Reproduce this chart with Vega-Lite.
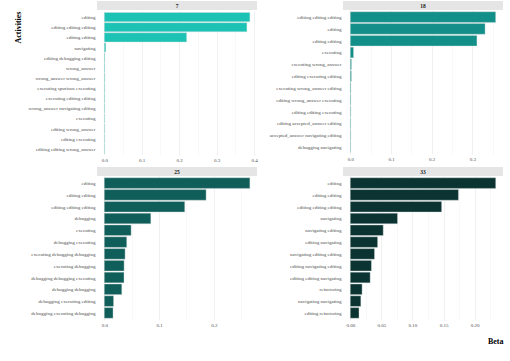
{
  "$schema": "https://vega.github.io/schema/vega-lite/v6.json",
  "padding": {"left": 14, "top": 1, "right": 1, "bottom": 5},
  "background": "white",
  "datasets": {
    "betas": [
      {"topic": "7", "term": "editing", "beta": 0.389},
      {"topic": "7", "term": "editing editing editing", "beta": 0.381},
      {"topic": "7", "term": "editing editing", "beta": 0.220},
      {"topic": "7", "term": "navigating", "beta": 0.004},
      {"topic": "7", "term": "editing debugging editing", "beta": 0.0016},
      {"topic": "7", "term": "wrong_answer", "beta": 0.00155},
      {"topic": "7", "term": "wrong_answer wrong_answer", "beta": 0.0015},
      {"topic": "7", "term": "executing spurious executing", "beta": 0.00145},
      {"topic": "7", "term": "executing editing editing", "beta": 0.0014},
      {"topic": "7", "term": "wrong_answer navigating editing", "beta": 0.00135},
      {"topic": "7", "term": "executing", "beta": 0.0013},
      {"topic": "7", "term": "editing wrong_answer", "beta": 0.00125},
      {"topic": "7", "term": "editing executing", "beta": 0.0012},
      {"topic": "7", "term": "editing editing wrong_answer", "beta": 0.00115},
      {"topic": "18", "term": "editing editing editing", "beta": 0.357},
      {"topic": "18", "term": "editing", "beta": 0.331},
      {"topic": "18", "term": "editing editing", "beta": 0.311},
      {"topic": "18", "term": "executing", "beta": 0.008},
      {"topic": "18", "term": "executing wrong_answer", "beta": 0.003},
      {"topic": "18", "term": "editing executing editing", "beta": 0.0028},
      {"topic": "18", "term": "executing wrong_answer editing", "beta": 0.0016},
      {"topic": "18", "term": "editing wrong_answer executing", "beta": 0.0015},
      {"topic": "18", "term": "editing editing executing", "beta": 0.0014},
      {"topic": "18", "term": "editing accepted_answer editing", "beta": 0.0013},
      {"topic": "18", "term": "accepted_answer navigating editing", "beta": 0.0012},
      {"topic": "18", "term": "debugging navigating", "beta": 0.0011},
      {"topic": "25", "term": "editing", "beta": 0.266},
      {"topic": "25", "term": "editing editing", "beta": 0.186},
      {"topic": "25", "term": "editing editing editing", "beta": 0.147},
      {"topic": "25", "term": "debugging", "beta": 0.085},
      {"topic": "25", "term": "executing", "beta": 0.049},
      {"topic": "25", "term": "debugging executing", "beta": 0.041},
      {"topic": "25", "term": "executing debugging debugging", "beta": 0.038},
      {"topic": "25", "term": "executing debugging", "beta": 0.0362},
      {"topic": "25", "term": "debugging debugging executing", "beta": 0.036},
      {"topic": "25", "term": "debugging debugging", "beta": 0.032},
      {"topic": "25", "term": "debugging executing editing", "beta": 0.017},
      {"topic": "25", "term": "debugging executing debugging", "beta": 0.016},
      {"topic": "33", "term": "editing", "beta": 0.234},
      {"topic": "33", "term": "editing editing", "beta": 0.174},
      {"topic": "33", "term": "editing editing editing", "beta": 0.147},
      {"topic": "33", "term": "navigating", "beta": 0.076},
      {"topic": "33", "term": "navigating editing", "beta": 0.053},
      {"topic": "33", "term": "editing navigating", "beta": 0.044},
      {"topic": "33", "term": "navigating editing editing", "beta": 0.039},
      {"topic": "33", "term": "editing navigating editing", "beta": 0.034},
      {"topic": "33", "term": "editing editing navigating", "beta": 0.032},
      {"topic": "33", "term": "refactoring", "beta": 0.019},
      {"topic": "33", "term": "navigating navigating", "beta": 0.017},
      {"topic": "33", "term": "editing refactoring", "beta": 0.014}
    ]
  },
  "config": {
    "font": "Liberation Serif",
    "view": {"stroke": null},
    "axis": {
      "labelFont": "Liberation Serif",
      "labelFontSize": 5,
      "labelColor": "#4d4d4d",
      "ticks": false,
      "domain": false,
      "gridColor": "#ebebeb",
      "gridWidth": 0.6,
      "titleFont": "Liberation Serif",
      "titleFontWeight": "bold",
      "titleFontSize": 8,
      "titleColor": "#000000"
    },
    "axisY": {"labelPadding": 2},
    "axisX": {"labelPadding": 2}
  },
  "columns": 2,
  "spacing": {"row": 5, "column": 11},
  "concat": [
    {
      "spacing": 0,
      "vconcat": [
        {"width": 160, "height": 9, "data": {"values": [{"topic": "7"}]}, "view": {"fill": "#e5e5e5", "stroke": null},
         "mark": {"type": "text", "fontWeight": "bold", "fontSize": 5.5, "color": "#1a1a1a", "baseline": "middle", "font": "Liberation Serif"},
         "encoding": {"text": {"field": "topic"}}},
        {"width": 160, "height": 144, "data": {"name": "betas"}, "transform": [{"filter": "datum.topic == '7'"}],
         "mark": {"type": "bar", "color": "#1cc3b5", "stroke": "#d6dede", "strokeWidth": 0.4},
         "encoding": {
           "y": {"field": "term", "type": "nominal", "sort": "-x", "scale": {"paddingInner": 0.1, "paddingOuter": 0.15},
                 "axis": {"title": "Activities", "titleAnchor": "start", "titleAlign": "right", "titlePadding": 6}},
           "x": {"field": "beta", "type": "quantitative", "scale": {"domain": [-0.0195, 0.408], "nice": false, "zero": false},
                 "axis": {"title": null, "values": [0, 0.05, 0.1, 0.15, 0.2, 0.25, 0.3, 0.35, 0.4],
                          "labelExpr": "abs(datum.value*10 - round(datum.value*10)) < 0.000001 ? format(datum.value, '.1f') : ''",
                          "gridColor": {"condition": {"test": "abs(datum.value*10 - round(datum.value*10)) < 0.000001", "value": "#e6e6e6"}, "value": "#f3f3f3"}}}
         }}
      ]
    },
    {
      "spacing": 0,
      "vconcat": [
        {"width": 160, "height": 9, "data": {"values": [{"topic": "18"}]}, "view": {"fill": "#e5e5e5", "stroke": null},
         "mark": {"type": "text", "fontWeight": "bold", "fontSize": 5.5, "color": "#1a1a1a", "baseline": "middle", "font": "Liberation Serif"},
         "encoding": {"text": {"field": "topic"}}},
        {"width": 160, "height": 144, "data": {"name": "betas"}, "transform": [{"filter": "datum.topic == '18'"}],
         "mark": {"type": "bar", "color": "#128f88", "stroke": "#d6dede", "strokeWidth": 0.4},
         "encoding": {
           "y": {"field": "term", "type": "nominal", "sort": "-x", "scale": {"paddingInner": 0.1, "paddingOuter": 0.15},
                 "axis": {"title": null}},
           "x": {"field": "beta", "type": "quantitative", "scale": {"domain": [-0.0179, 0.375], "nice": false, "zero": false},
                 "axis": {"title": null, "values": [0, 0.05, 0.1, 0.15, 0.2, 0.25, 0.3, 0.35],
                          "labelExpr": "abs(datum.value*10 - round(datum.value*10)) < 0.000001 ? format(datum.value, '.1f') : ''",
                          "gridColor": {"condition": {"test": "abs(datum.value*10 - round(datum.value*10)) < 0.000001", "value": "#e6e6e6"}, "value": "#f3f3f3"}}}
         }}
      ]
    },
    {
      "spacing": 0,
      "vconcat": [
        {"width": 160, "height": 9, "data": {"values": [{"topic": "25"}]}, "view": {"fill": "#e5e5e5", "stroke": null},
         "mark": {"type": "text", "fontWeight": "bold", "fontSize": 5.5, "color": "#1a1a1a", "baseline": "middle", "font": "Liberation Serif"},
         "encoding": {"text": {"field": "topic"}}},
        {"width": 160, "height": 144, "data": {"name": "betas"}, "transform": [{"filter": "datum.topic == '25'"}],
         "mark": {"type": "bar", "color": "#0f5e5a", "stroke": "#d6dede", "strokeWidth": 0.4},
         "encoding": {
           "y": {"field": "term", "type": "nominal", "sort": "-x", "scale": {"paddingInner": 0.1, "paddingOuter": 0.15},
                 "axis": {"title": null}},
           "x": {"field": "beta", "type": "quantitative", "scale": {"domain": [-0.0133, 0.279], "nice": false, "zero": false},
                 "axis": {"title": null, "values": [0, 0.05, 0.1, 0.15, 0.2, 0.25],
                          "labelExpr": "abs(datum.value*10 - round(datum.value*10)) < 0.000001 ? format(datum.value, '.1f') : ''",
                          "gridColor": {"condition": {"test": "abs(datum.value*10 - round(datum.value*10)) < 0.000001", "value": "#e6e6e6"}, "value": "#f3f3f3"}}}
         }}
      ]
    },
    {
      "spacing": 0,
      "vconcat": [
        {"width": 160, "height": 9, "data": {"values": [{"topic": "33"}]}, "view": {"fill": "#e5e5e5", "stroke": null},
         "mark": {"type": "text", "fontWeight": "bold", "fontSize": 5.5, "color": "#1a1a1a", "baseline": "middle", "font": "Liberation Serif"},
         "encoding": {"text": {"field": "topic"}}},
        {"width": 160, "height": 144, "data": {"name": "betas"}, "transform": [{"filter": "datum.topic == '33'"}],
         "mark": {"type": "bar", "color": "#0a3332", "stroke": "#d6dede", "strokeWidth": 0.4},
         "encoding": {
           "y": {"field": "term", "type": "nominal", "sort": "-x", "scale": {"paddingInner": 0.1, "paddingOuter": 0.15},
                 "axis": {"title": null}},
           "x": {"field": "beta", "type": "quantitative", "scale": {"domain": [-0.0117, 0.2457], "nice": false, "zero": false},
                 "axis": {"title": "Beta", "titleAnchor": "end", "titlePadding": 10,
                          "values": [0, 0.025, 0.05, 0.075, 0.1, 0.125, 0.15, 0.175, 0.2, 0.225],
                          "labelExpr": "abs(datum.value*20 - round(datum.value*20)) < 0.000001 ? format(datum.value, '.2f') : ''",
                          "gridColor": {"condition": {"test": "abs(datum.value*20 - round(datum.value*20)) < 0.000001", "value": "#e6e6e6"}, "value": "#f3f3f3"}}}
         }}
      ]
    }
  ]
}
